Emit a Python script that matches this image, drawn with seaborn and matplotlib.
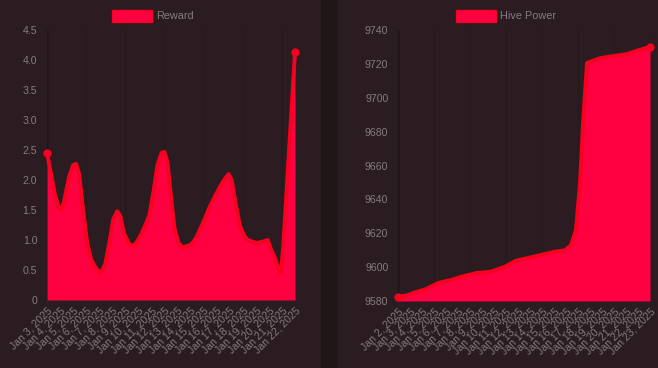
import matplotlib
matplotlib.use("Agg")
import matplotlib.pyplot as plt
import matplotlib.patches as mpatches
import pandas as pd
import seaborn as sns

# reward, x = days after Jan 3 2025
reward_day = [0, 0.31, 0.62, 0.92, 1.08, 1.31, 1.69, 2.0, 2.23, 2.46, 2.77, 3.08, 3.38, 3.69,
              4.0, 4.15, 4.46, 4.77, 5.08, 5.38, 5.62, 5.92, 6.31, 6.62, 6.92, 7.23, 7.54,
              7.85, 8.15, 8.46, 8.77, 9.0, 9.23, 9.46, 9.77, 10.08, 10.38, 10.77, 11.08,
              11.46, 11.77, 12.08, 12.46, 12.85, 13.23, 13.62, 13.92, 14.15, 14.46, 14.77,
              15.08, 15.38, 15.77, 16.08, 16.46, 16.92, 17.15, 17.46, 17.77, 17.92, 18.08,
              18.46, 19.0]
reward_val = [2.45, 2.1, 1.75, 1.52, 1.5, 1.65, 2.05, 2.25, 2.27, 2.1, 1.5, 0.95, 0.68, 0.55,
              0.47, 0.46, 0.6, 0.95, 1.35, 1.48, 1.4, 1.1, 0.93, 0.9, 0.98, 1.1, 1.25,
              1.42, 1.8, 2.25, 2.45, 2.47, 2.3, 1.8, 1.2, 0.95, 0.88, 0.9, 0.93,
              1.05, 1.2, 1.35, 1.55, 1.72, 1.88, 2.02, 2.1, 2.0, 1.6, 1.25,
              1.08, 1.0, 0.97, 0.95, 0.97, 1.0, 0.85, 0.7, 0.5, 0.45, 0.85,
              2.2, 4.13]
reward_labels = ["Jan %d, 2025" % d for d in range(3, 23)]

# hive power, x = days after Jan 2 2025
hp_day = [0, 0.83, 1.5, 2.33, 3.33, 4.42, 5.25, 6.5, 7.75, 8.92, 9.83, 10.83, 11.92, 13.08,
          13.92, 14.42, 14.83, 15.17, 15.42, 15.75, 16.83, 17.92, 19.08, 19.92, 21.0]
hp_val = [9582.5, 9583.5, 9585.3, 9587, 9590.6, 9592.4, 9594.3, 9596.5, 9597.3, 9600.3,
          9603.8, 9605.4, 9607.2, 9609.1, 9610, 9613, 9622, 9650, 9685, 9720.5, 9723.4,
          9724.6, 9725.8, 9727.8, 9730.1]
hp_labels = ["Jan %d, 2025" % d for d in range(2, 24)]

card = "#2a1c20"
gap = "#1f1618"
fill_col = "#ff0040"
line_col = "#f8001f"
text_col = "#857b7d"

sns.set_theme(style="dark")
plt.rcParams["font.family"] = ["Liberation Sans", "DejaVu Sans"]

fig = plt.figure(figsize=(6.58, 3.68), dpi=100)
fig.patch.set_facecolor(gap)
fig.patches.append(mpatches.Rectangle((0, 0), 320 / 658, 1, transform=fig.transFigure,
                                      color=card, zorder=-10))
fig.patches.append(mpatches.Rectangle((338 / 658, 0), 320 / 658, 1, transform=fig.transFigure,
                                      color=card, zorder=-10))


def draw(ax, day, val, labels, ylim, yticks, ytl, name, legend_x):
    df = pd.DataFrame({"day": day, "val": val})
    ax.set_facecolor(card)
    ax.fill_between(df["day"], df["val"], ylim[0], color=fill_col, lw=0, zorder=2)
    sns.lineplot(data=df, x="day", y="val", ax=ax, color=line_col, lw=2.8, zorder=3,
                 clip_on=False)
    ends = df.iloc[[0, -1]]
    ax.plot(ends["day"], ends["val"], "o", color=line_col, ms=5, zorder=4, clip_on=False)
    ax.set_xlim(0, len(labels) - 1)
    ax.set_ylim(*ylim)
    ax.set_xticks(range(len(labels)))
    ax.set_xticklabels(labels, rotation=45, ha="right", rotation_mode="anchor")
    ax.set_yticks(yticks)
    ax.set_yticklabels(ytl)
    ax.tick_params(colors=text_col, labelsize=7.6, length=0)
    ax.tick_params(axis="y", pad=7)
    ax.tick_params(axis="x", pad=4)
    ax.set_xlabel("")
    ax.set_ylabel("")
    ax.grid(False)
    for x in range(0, len(labels), 3):
        ax.axvline(x, color="#261a1d", lw=0.8, zorder=1)
    for s in ax.spines.values():
        s.set_visible(False)
    ax.axvline(0, color="#1e1517", lw=1, zorder=1)
    # legend box
    fig.patches.append(mpatches.Rectangle((legend_x / 658, 1 - 22 / 368), 40 / 658, 12 / 368,
                                          transform=fig.transFigure, facecolor=fill_col,
                                          edgecolor=line_col, lw=1, zorder=5))
    fig.text((legend_x + 44) / 658, 1 - 16 / 368, name, color=text_col, fontsize=7.8,
             va="center", ha="left")


ax1 = fig.add_axes([47 / 658, 68 / 368, 248 / 658, 270 / 368])
draw(ax1, reward_day, reward_val, reward_labels, (0, 4.5),
     [0, 0.5, 1, 1.5, 2, 2.5, 3, 3.5, 4, 4.5],
     ["0", "0.5", "1.0", "1.5", "2.0", "2.5", "3.0", "3.5", "4.0", "4.5"], "Reward", 112)

ax2 = fig.add_axes([398 / 658, 67 / 368, 252 / 658, 271 / 368])
hp_ticks = list(range(9580, 9741, 20))
draw(ax2, hp_day, hp_val, hp_labels, (9580, 9740), hp_ticks,
     [str(t) for t in hp_ticks], "Hive Power", 456)

fig.savefig("out.png", dpi=100, facecolor=fig.get_facecolor())
